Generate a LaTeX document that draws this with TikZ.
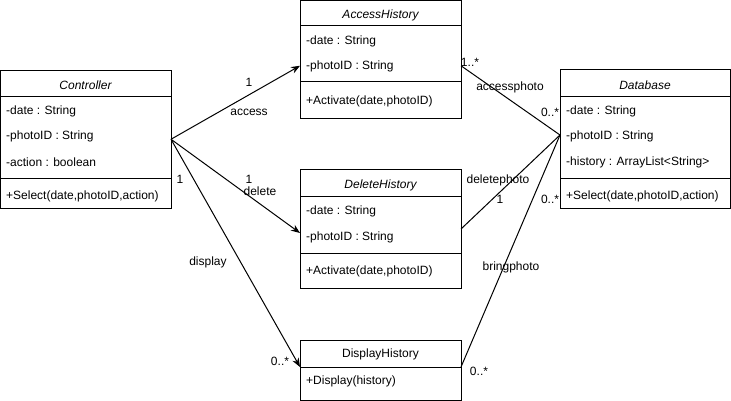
\documentclass[tikz,border=0pt]{standalone}
\usepackage{fontspec}
\setmainfont{Liberation Sans}
\usetikzlibrary{arrows.meta}
\begin{document}
\begin{tikzpicture}[x=1pt,y=-1pt,
  box/.style={draw, line width=1pt, anchor=north west, inner sep=0, outer sep=0},
  txt/.style={anchor=west, inner sep=0, yshift=-1pt, font=\fontsize{12}{14}\selectfont},
  ttl/.style={inner sep=0, yshift=-1pt, font=\fontsize{12}{14}\selectfont\itshape},
  lbl/.style={inner sep=0, yshift=-1pt, font=\fontsize{12}{14}\selectfont},
  conn/.style={line width=1pt},
  arr/.style={line width=1pt, -{Stealth[length=9pt,width=7pt]}}]
\useasboundingbox (0,0) rectangle (731,401);
% Controller
\node[box, minimum width=170.5pt, minimum height=137.5pt] (ctrl) at (0.5,70.5) {};
\draw[line width=1pt] (0.5,97) -- (171,97) (0.5,178) -- (171,178);
\node[ttl] (ctrlT) at (85.5,84) {Controller};
\node[txt] (ctrlA) at (6,110) {-date : String};
\node[txt] (ctrlB) at (6,135) {-photoID : String};
\node[txt] (ctrlC) at (6,161) {-action : boolean};
\node[txt] (ctrlM) at (6,195) {+Select(date,photoID,action)};
% AccessHistory
\node[box, minimum width=161pt, minimum height=118.5pt] (acc) at (300,0.5) {};
\draw[line width=1pt] (300,26) -- (461,26) (300,82) -- (461,82);
\node[ttl] (accT) at (380.5,14) {AccessHistory};
\node[txt] (accA) at (306,40) {-date : String};
\node[txt] (accB) at (306,65) {-photoID : String};
\node[txt] (accM) at (306,100) {+Activate(date,photoID)};
% DeleteHistory
\node[box, minimum width=161pt, minimum height=118pt] (del) at (300,170) {};
\draw[line width=1pt] (300,196) -- (461,196) (300,253) -- (461,253);
\node[ttl] (delT) at (380.5,184) {DeleteHistory};
\node[txt] (delA) at (306,210) {-date : String};
\node[txt] (delB) at (306,236) {-photoID : String};
\node[txt] (delM) at (306,270) {+Activate(date,photoID)};
% DisplayHistory
\node[box, minimum width=161pt, minimum height=60pt] (disp) at (300,340) {};
\draw[line width=1pt] (300,367) -- (461,367);
\node[lbl] (dispT) at (380.5,353) {DisplayHistory};
\node[txt] (dispM) at (306,380) {+Display(history)};
% Database
\node[box, minimum width=170pt, minimum height=138pt] (db) at (560,70) {};
\draw[line width=1pt] (560,97) -- (730,97) (560,178) -- (730,178);
\node[ttl] (dbT) at (645,84) {Database};
\node[txt] (dbA) at (566,110) {-date : String};
\node[txt] (dbB) at (566,135) {-photoID : String};
\node[txt] (dbC) at (566,161) {-history : ArrayList<String>};
\node[txt] (dbM) at (566,195) {+Select(date,photoID,action)};
% connectors
\draw[arr] (ctrl.east) -- ([yshift=-6pt]acc.west);
\draw[arr] (ctrl.east) -- ([yshift=-4pt]del.west);
\draw[arr] (ctrl.east) -- ([yshift=3pt]disp.west);
\draw[conn] ([yshift=-6pt]acc.east) -- ([yshift=4pt]db.west);
\draw[conn] (del.east) -- ([yshift=4pt]db.west);
\draw[conn] ([yshift=3pt]disp.east) -- ([yshift=4pt]db.west);
% labels
\node[lbl] (l1) at (249,81) {1};
\node[lbl] (l2) at (249,111) {access};
\node[lbl] (l3) at (249,178) {1};
\node[lbl] (l4) at (260,190) {delete};
\node[lbl] (l5) at (180,178) {1};
\node[lbl] (l6) at (208,261) {display};
\node[lbl] (l7) at (280,360) {0..*};
\node[lbl] (l8) at (470,61) {1..*};
\node[lbl] (l9) at (510,86) {accessphoto};
\node[lbl] (l10) at (550,111) {0..*};
\node[lbl] (l11) at (498,179) {deletephoto};
\node[lbl] (l12) at (500,198) {1};
\node[lbl] (l13) at (550,198) {0..*};
\node[lbl] (l14) at (511,266) {bringphoto};
\node[lbl] (l15) at (479,370) {0..*};
\end{tikzpicture}
\end{document}
